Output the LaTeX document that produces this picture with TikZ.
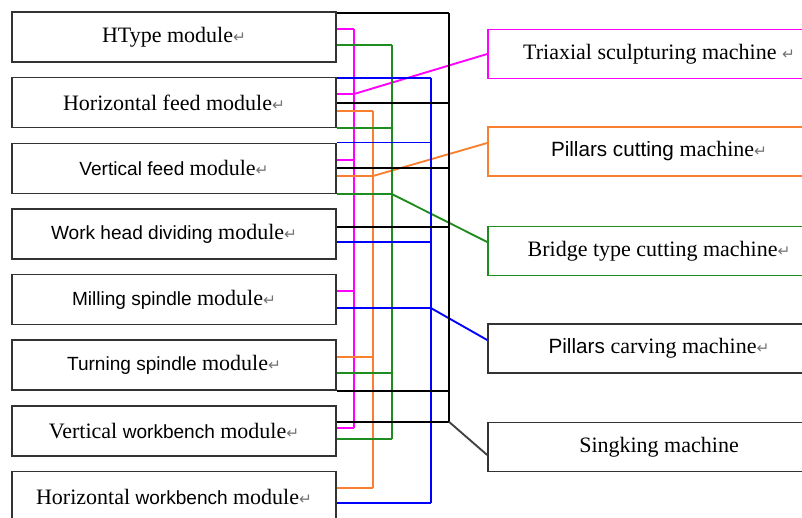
\documentclass[tikz,border=0pt]{standalone}
\usepackage{fontspec}
\setmainfont{Liberation Serif}
\setsansfont{Liberation Sans}
\newfontfamily\markFont{DejaVu Sans}
\usetikzlibrary{calc}

\definecolor{lineMag}{RGB}{255,0,255}
\definecolor{lineOrange}{RGB}{248,128,48}
\definecolor{lineGreen}{RGB}{30,140,30}
\definecolor{lineBlue}{RGB}{0,0,255}

\newcommand{\paraMark}{{\markFont\fontsize{11.5}{11.5}\selectfont\color{black!55}↵}}
\newcommand{\sansLeft}[1]{{\sffamily\fontsize{14.3}{16}\selectfont #1}}
\newcommand{\sansRight}[1]{{\sffamily\fontsize{15.5}{17}\selectfont #1}}

\begin{document}
\begin{tikzpicture}[x=0.75pt, y=-0.75pt,
  module/.style={draw=black!80, line width=1.2pt, minimum width=243pt,
    minimum height=37.5pt, inner sep=0pt, font=\fontsize{16.5}{19}\selectfont},
  machine/.style={module, minimum width=256.5pt, minimum height=36.75pt},
  link/.style={line width=1.4pt}]

% Fix the frame of the picture
\useasboundingbox (0,0) rectangle (802,517);
\clip (0,0) rectangle (802,517);

% Draw the module boxes
\node[module] (m1) at (174,37) {HType module\paraMark};
\node[module] (m2) at (174,102.6) {Horizontal feed module\paraMark};
\node[module] (m3) at (174,168.3) {\sansLeft{Vertical feed }module\paraMark};
\node[module] (m4) at (174,233.9) {\sansLeft{Work head dividing }module\paraMark};
\node[module] (m5) at (174,299.6) {\sansLeft{Milling spindle }module\paraMark};
\node[module] (m6) at (174,365.2) {\sansLeft{Turning spindle }module\paraMark};
\node[module] (m7) at (174,430.8) {Vertical \sansLeft{workbench }module\paraMark};
\node[module] (m8) at (174,496.5) {Horizontal \sansLeft{workbench }module\paraMark};

% Draw the machine boxes
\node[machine, draw=lineMag] (r1) at (659,54) {Triaxial sculpturing machine \paraMark};
\node[machine, draw=lineOrange] (r2) at (659,151.5) {\sansRight{Pillars cutting }machine\paraMark};
\node[machine, draw=lineGreen] (r3) at (659,251) {Bridge type cutting machine\paraMark};
\node[machine] (r4) at (659,348.5) {\sansRight{Pillars }carving machine\paraMark};
\node[machine] (r5) at (659,447) {Singking machine};

% Define the positions of the vertical buses
\coordinate (busMag) at (354,0); \coordinate (busOrange) at (373,0);
\coordinate (busGreen) at (392,0); \coordinate (busBlue) at (431,0);
\coordinate (busBlack) at (449,0);

% Magenta links
\coordinate (M1) at ($(m1.east)+(0,-8)$); \coordinate (M2) at ($(m2.east)+(0,-8.6)$);
\coordinate (M3) at ($(m3.east)+(0,-8.3)$); \coordinate (M5) at ($(m5.east)+(0,-8.6)$);
\coordinate (M7) at ($(m7.east)+(0,-2.5)$);
\draw[link, lineMag] (M1) -- (M1 -| busMag) (M2) -- (M2 -| busMag) (M3) -- (M3 -| busMag)
(M5) -- (M5 -| busMag) (M7) -- (M7 -| busMag) (M1 -| busMag) -- (M7 -| busMag);
\draw[link, lineMag] (M2 -| busMag) -- (r1.west);

% Orange links
\coordinate (O2) at ($(m2.east)+(0,8.5)$); \coordinate (O3) at ($(m3.east)+(0,7.7)$);
\coordinate (O6) at ($(m6.east)+(0,-8)$); \coordinate (O8) at ($(m8.east)+(0,-8.5)$);
\draw[link, lineOrange] (O2) -- (O2 -| busOrange) (O3) -- (O3 -| busOrange)
(O6) -- (O6 -| busOrange) (O8) -- (O8 -| busOrange) (O2 -| busOrange) -- (O8 -| busOrange);
\draw[link, lineOrange] (O3 -| busOrange) -- ($(r2.west)+(0,-8.5)$);

% Green links
\coordinate (G1) at ($(m1.east)+(0,8)$); \coordinate (G2) at (m2.south east);
\coordinate (G3) at (m3.south east); \coordinate (G6) at ($(m6.east)+(0,8)$);
\coordinate (G7) at ($(m7.east)+(0,8.5)$);
\draw[link, lineGreen] (G1) -- (G1 -| busGreen) (G2) -- (G2 -| busGreen) (G3) -- (G3 -| busGreen)
(G6) -- (G6 -| busGreen) (G7) -- (G7 -| busGreen) (G1 -| busGreen) -- (G7 -| busGreen);
\draw[link, lineGreen] (G3 -| busGreen) -- ($(r3.west)+(0,-9)$);

% Blue links
\coordinate (B2) at ($(m2.north east)+(0,1)$); \coordinate (B3) at (m3.north east);
\coordinate (B4) at ($(m4.east)+(0,8)$); \coordinate (B5) at ($(m5.east)+(0,8.5)$);
\coordinate (B8) at ($(m8.east)+(0,6.5)$);
\draw[link, lineBlue] (B2) -- (B2 -| busBlue) (B3) -- (B3 -| busBlue) (B4) -- (B4 -| busBlue)
(B5) -- (B5 -| busBlue) (B8) -- (B8 -| busBlue) (B2 -| busBlue) -- (B8 -| busBlue);
\draw[link, lineBlue] (B5 -| busBlue) -- ($(r4.west)+(0,-8.5)$);

% Black links
\coordinate (K1) at ($(m1.north east)+(0,2)$); \coordinate (K2) at (m2.east);
\coordinate (K3) at (m3.east); \coordinate (K4) at ($(m4.east)+(0,-7)$);
\coordinate (K6) at (m6.south east); \coordinate (K7) at ($(m7.east)+(0,-9)$);
\draw[link, black] (K1) -- (K1 -| busBlack) (K2) -- (K2 -| busBlack) (K3) -- (K3 -| busBlack)
(K4) -- (K4 -| busBlack) (K6) -- (K6 -| busBlack) (K7) -- (K7 -| busBlack)
(K1 -| busBlack) -- (K7 -| busBlack);
\draw[link, black!75] (K7 -| busBlack) -- ($(r5.west)+(0,8)$);
\end{tikzpicture}
\end{document}
